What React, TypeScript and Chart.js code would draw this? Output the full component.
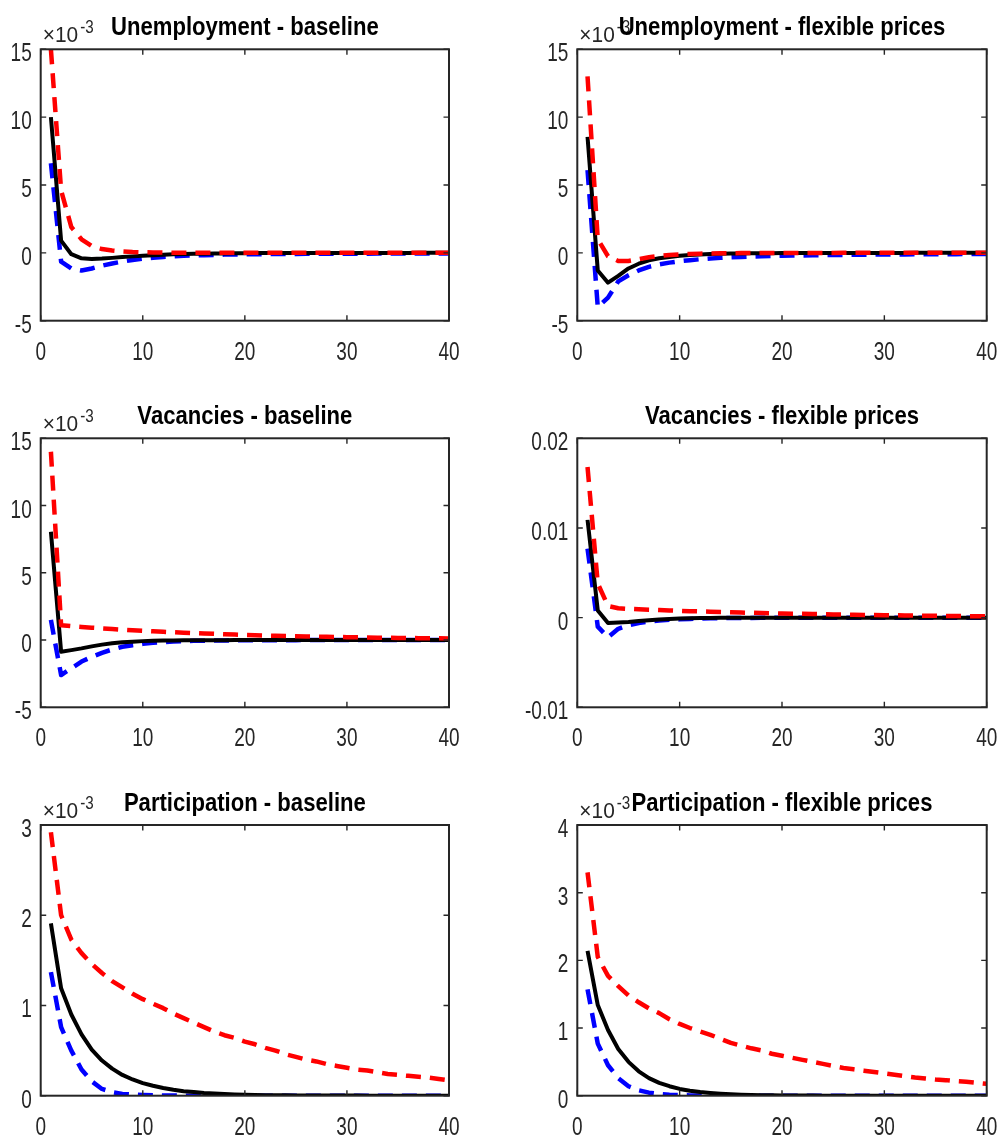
import React, { useEffect, useRef } from "react";
import { Chart, registerables } from "chart.js";

Chart.register(...registerables);

// Horizon (quarters after the shock)
const periods = [
  1, 2, 3, 4, 5, 6, 7, 8, 9, 10, 11, 12, 13, 14, 15, 16, 17, 18, 19, 20,
  21, 22, 23, 24, 25, 26, 27, 28, 29, 30, 31, 32, 33, 34, 35, 36, 37, 38, 39, 40,
];
const xTicks = [0, 10, 20, 30, 40];

// All responses are in units of 10^-3
const unempBaseRed = [15.0, 4.6, 1.9, 1.0, 0.5, 0.28, 0.17, 0.1, 0.06, 0.04, 0.03, 0.02, 0.015, 0.01, 0.008, 0.006, 0.005, 0.004, 0.003, 0.003, 0.002, 0.002, 0.002, 0.001, 0.001, 0.001, 0.001, 0.001, 0.001, 0.001, 0, 0, 0, 0, 0, 0, 0, 0, 0, 0];
const unempBaseBlack = [10.0, 0.9, -0.1, -0.4, -0.45, -0.42, -0.37, -0.31, -0.26, -0.21, -0.17, -0.14, -0.11, -0.09, -0.07, -0.06, -0.05, -0.04, -0.03, -0.025, -0.02, -0.017, -0.014, -0.012, -0.01, -0.008, -0.007, -0.006, -0.005, -0.004, -0.004, -0.003, -0.003, -0.002, -0.002, -0.002, -0.001, -0.001, -0.001, -0.001];
const unempBaseBlue = [6.6, -0.65, -1.15, -1.3, -1.15, -0.95, -0.78, -0.64, -0.52, -0.43, -0.36, -0.3, -0.26, -0.22, -0.19, -0.17, -0.15, -0.13, -0.12, -0.11, -0.1, -0.095, -0.09, -0.085, -0.08, -0.075, -0.07, -0.068, -0.065, -0.062, -0.06, -0.058, -0.056, -0.054, -0.052, -0.05, -0.048, -0.046, -0.044, -0.042];

const unempFlexRed = [13.0, 1.0, -0.25, -0.6, -0.6, -0.47, -0.33, -0.23, -0.16, -0.11, -0.08, -0.06, -0.045, -0.035, -0.027, -0.02, -0.015, -0.012, -0.009, -0.007, -0.005, -0.004, -0.003, -0.002, -0.002, -0.001, -0.001, -0.001, -0.001, 0, 0, 0, 0, 0, 0, 0, 0, 0, 0, 0];
const unempFlexBlack = [8.55, -1.3, -2.2, -1.7, -1.15, -0.8, -0.55, -0.4, -0.3, -0.22, -0.16, -0.12, -0.09, -0.07, -0.055, -0.045, -0.035, -0.028, -0.022, -0.018, -0.014, -0.011, -0.009, -0.007, -0.006, -0.005, -0.004, -0.003, -0.003, -0.002, -0.002, -0.002, -0.001, -0.001, -0.001, -0.001, -0.001, 0, 0, 0];
const unempFlexBlue = [6.1, -4.0, -3.3, -2.1, -1.65, -1.3, -1.03, -0.85, -0.72, -0.62, -0.54, -0.47, -0.42, -0.37, -0.33, -0.3, -0.27, -0.25, -0.23, -0.21, -0.2, -0.19, -0.18, -0.17, -0.16, -0.15, -0.14, -0.135, -0.13, -0.125, -0.12, -0.115, -0.11, -0.105, -0.1, -0.097, -0.094, -0.091, -0.088, -0.085];

const vacBaseRed = [14.0, 1.1, 1.03, 0.97, 0.92, 0.87, 0.82, 0.77, 0.73, 0.69, 0.65, 0.61, 0.58, 0.55, 0.52, 0.49, 0.46, 0.43, 0.41, 0.38, 0.36, 0.34, 0.32, 0.3, 0.29, 0.27, 0.26, 0.24, 0.23, 0.21, 0.2, 0.19, 0.18, 0.17, 0.16, 0.15, 0.14, 0.135, 0.13, 0.12];
const vacBaseBlack = [8.05, -0.87, -0.75, -0.62, -0.47, -0.34, -0.24, -0.17, -0.12, -0.08, -0.055, -0.04, -0.03, -0.02, -0.015, -0.01, -0.008, -0.006, -0.004, -0.003, -0.002, -0.002, -0.001, -0.001, -0.001, 0, 0, 0, 0, 0, 0, 0, 0, 0, 0, 0, 0, 0, 0, 0];
const vacBaseBlue = [1.5, -2.6, -2.1, -1.6, -1.25, -0.95, -0.7, -0.5, -0.38, -0.28, -0.2, -0.15, -0.11, -0.08, -0.06, -0.05, -0.04, -0.03, -0.025, -0.02, -0.015, -0.012, -0.01, -0.008, -0.006, -0.005, -0.004, -0.003, -0.002, -0.002, -0.001, -0.001, -0.001, 0, 0, 0, 0, 0, 0, 0];

const vacFlexRed = [16.8, 3.8, 1.3, 1.05, 0.98, 0.93, 0.88, 0.84, 0.8, 0.76, 0.72, 0.69, 0.66, 0.63, 0.6, 0.57, 0.54, 0.51, 0.49, 0.46, 0.44, 0.42, 0.4, 0.38, 0.36, 0.34, 0.32, 0.3, 0.29, 0.27, 0.26, 0.24, 0.23, 0.22, 0.21, 0.19, 0.18, 0.17, 0.16, 0.15];
const vacFlexBlack = [10.9, 0.8, -0.6, -0.55, -0.48, -0.38, -0.28, -0.2, -0.14, -0.1, -0.07, -0.05, -0.035, -0.025, -0.018, -0.013, -0.009, -0.006, -0.004, -0.003, -0.002, -0.001, -0.001, 0, 0, 0, 0, 0, 0, 0, 0, 0, 0, 0, 0, 0, 0, 0, 0, 0];
const vacFlexBlue = [7.7, -1.0, -2.2, -1.25, -0.85, -0.6, -0.45, -0.33, -0.25, -0.19, -0.14, -0.1, -0.08, -0.06, -0.045, -0.035, -0.027, -0.02, -0.015, -0.012, -0.009, -0.007, -0.005, -0.004, -0.003, -0.002, -0.002, -0.001, -0.001, -0.001, 0, 0, 0, 0, 0, 0, 0, 0, 0, 0];

const partBaseRed = [2.92, 2.0, 1.73, 1.58, 1.46, 1.36, 1.27, 1.2, 1.13, 1.07, 1.02, 0.97, 0.91, 0.86, 0.81, 0.76, 0.71, 0.67, 0.64, 0.6, 0.57, 0.53, 0.5, 0.46, 0.43, 0.4, 0.38, 0.35, 0.33, 0.31, 0.29, 0.28, 0.26, 0.24, 0.23, 0.22, 0.21, 0.2, 0.185, 0.17];
const partBaseBlack = [1.91, 1.19, 0.9, 0.68, 0.51, 0.39, 0.3, 0.23, 0.18, 0.14, 0.11, 0.085, 0.065, 0.05, 0.04, 0.03, 0.024, 0.018, 0.014, 0.011, 0.008, 0.006, 0.005, 0.004, 0.003, 0.002, 0.002, 0.001, 0.001, 0.001, 0.001, 0, 0, 0, 0, 0, 0, 0, 0, 0];
const partBaseBlue = [1.37, 0.76, 0.5, 0.29, 0.16, 0.075, 0.04, 0.02, 0.012, 0.007, 0.004, 0.002, 0.001, 0.001, 0, 0, 0, 0, 0, 0, 0, 0, 0, 0, 0, 0, 0, 0, 0, 0, 0, 0, 0, 0, 0, 0, 0, 0, 0, 0];

const partFlexRed = [3.3, 2.05, 1.77, 1.62, 1.48, 1.38, 1.29, 1.22, 1.13, 1.06, 1.0, 0.95, 0.9, 0.84, 0.78, 0.74, 0.7, 0.67, 0.62, 0.59, 0.56, 0.53, 0.5, 0.47, 0.44, 0.41, 0.39, 0.37, 0.35, 0.33, 0.31, 0.29, 0.27, 0.255, 0.24, 0.23, 0.215, 0.205, 0.19, 0.175];
const partFlexBlack = [2.14, 1.34, 0.97, 0.69, 0.5, 0.36, 0.26, 0.19, 0.14, 0.1, 0.074, 0.054, 0.04, 0.029, 0.021, 0.015, 0.011, 0.008, 0.006, 0.004, 0.003, 0.002, 0.002, 0.001, 0.001, 0.001, 0, 0, 0, 0, 0, 0, 0, 0, 0, 0, 0, 0, 0, 0];
const partFlexBlue = [1.57, 0.77, 0.45, 0.26, 0.14, 0.08, 0.045, 0.025, 0.014, 0.008, 0.004, 0.002, 0.001, 0.001, 0, 0, 0, 0, 0, 0, 0, 0, 0, 0, 0, 0, 0, 0, 0, 0, 0, 0, 0, 0, 0, 0, 0, 0, 0, 0];

// Y-axis ticks (same 10^-3 units) and their printed labels
const yTicksE3 = [-5, 0, 5, 10, 15];
const yLabelsE3 = ["-5", "0", "5", "10", "15"];
const yTicksVacFlex = [-10, 0, 10, 20];
const yLabelsVacFlex = ["-0.01", "0", "0.01", "0.02"];
const yTicksPartBase = [0, 1, 2, 3];
const yLabelsPartBase = ["0", "1", "2", "3"];
const yTicksPartFlex = [0, 1, 2, 3, 4];
const yLabelsPartFlex = ["0", "1", "2", "3", "4"];

const titles = [
  "Unemployment - baseline",
  "Unemployment - flexible prices",
  "Vacancies - baseline",
  "Vacancies - flexible prices",
  "Participation - baseline",
  "Participation - flexible prices",
];

type PanelSpec = {
  title: string;
  red: number[];
  black: number[];
  blue: number[];
  yTicks: number[];
  yLabels: string[];
  exponent: boolean;
  row: number;
  col: number;
};

const panels: PanelSpec[] = [
  { title: titles[0], red: unempBaseRed, black: unempBaseBlack, blue: unempBaseBlue, yTicks: yTicksE3, yLabels: yLabelsE3, exponent: true, row: 0, col: 0 },
  { title: titles[1], red: unempFlexRed, black: unempFlexBlack, blue: unempFlexBlue, yTicks: yTicksE3, yLabels: yLabelsE3, exponent: true, row: 0, col: 1 },
  { title: titles[2], red: vacBaseRed, black: vacBaseBlack, blue: vacBaseBlue, yTicks: yTicksE3, yLabels: yLabelsE3, exponent: true, row: 1, col: 0 },
  { title: titles[3], red: vacFlexRed, black: vacFlexBlack, blue: vacFlexBlue, yTicks: yTicksVacFlex, yLabels: yLabelsVacFlex, exponent: false, row: 1, col: 1 },
  { title: titles[4], red: partBaseRed, black: partBaseBlack, blue: partBaseBlue, yTicks: yTicksPartBase, yLabels: yLabelsPartBase, exponent: true, row: 2, col: 0 },
  { title: titles[5], red: partFlexRed, black: partFlexBlack, blue: partFlexBlue, yTicks: yTicksPartFlex, yLabels: yLabelsPartFlex, exponent: true, row: 2, col: 1 },
];

// Figure geometry (page pixels)
const CANVAS_W = 500;
const CANVAS_H = 380;
const COL_LEFT = [0, 500];
const ROW_TOP = [0, 380, 760];
const BOX_X = [
  [40.7, 449],
  [577.3, 986.7],
];
const BOX_Y = [
  [49.3, 320.7],
  [438.3, 707.3],
  [825, 1095.7],
];

const AXIS_COLOR = "#262626";
const FONT_FAMILY = '"Liberation Sans", Arial, Helvetica, sans-serif';
const TICK_LEN = 5.5;
const DASH = [15, 9];

function drawText(
  ctx: CanvasRenderingContext2D,
  text: string,
  x: number,
  y: number,
  font: string,
  sx: number,
  align: CanvasTextAlign,
  color: string
) {
  ctx.save();
  ctx.translate(x, y);
  ctx.scale(sx, 1);
  ctx.font = font;
  ctx.textAlign = align;
  ctx.textBaseline = "alphabetic";
  ctx.fillStyle = color;
  ctx.fillText(text, 0, 0);
  ctx.restore();
}

function framePlugin(p: PanelSpec) {
  return {
    id: "matlabFrame",
    afterDraw(chart: any) {
      const ctx: CanvasRenderingContext2D = chart.ctx;
      const { left, right, top, bottom } = chart.chartArea;
      const xs = chart.scales.x;
      const ys = chart.scales.y;
      ctx.save();

      // axes box
      ctx.strokeStyle = AXIS_COLOR;
      ctx.lineWidth = 2;
      ctx.strokeRect(left, top, right - left, bottom - top);

      // inward ticks on all four sides
      ctx.lineWidth = 1.4;
      ctx.beginPath();
      for (const v of xTicks) {
        const px = xs.getPixelForValue(v);
        ctx.moveTo(px, bottom);
        ctx.lineTo(px, bottom - TICK_LEN);
        ctx.moveTo(px, top);
        ctx.lineTo(px, top + TICK_LEN);
      }
      for (const v of p.yTicks) {
        const py = ys.getPixelForValue(v);
        ctx.moveTo(left, py);
        ctx.lineTo(left + TICK_LEN, py);
        ctx.moveTo(right, py);
        ctx.lineTo(right - TICK_LEN, py);
      }
      ctx.stroke();

      // tick labels
      const tickFont = `25px ${FONT_FAMILY}`;
      xTicks.forEach((v) => {
        drawText(ctx, String(v), xs.getPixelForValue(v), bottom + 39, tickFont, 0.76, "center", AXIS_COLOR);
      });
      p.yTicks.forEach((v, i) => {
        drawText(ctx, p.yLabels[i], left - 9, ys.getPixelForValue(v) + 12, tickFont, 0.76, "right", AXIS_COLOR);
      });

      // exponent multiplier
      if (p.exponent) {
        const baseFont = `22px ${FONT_FAMILY}`;
        ctx.font = baseFont;
        const w = ctx.measureText("\u00d710").width * 0.95;
        drawText(ctx, "\u00d710", left + 2, top - 7, baseFont, 0.95, "left", AXIS_COLOR);
        drawText(ctx, "-3", left + 2 + w + 2, top - 16, `19px ${FONT_FAMILY}`, 0.8, "left", AXIS_COLOR);
      }

      // title
      drawText(ctx, p.title, (left + right) / 2, top - 14.3, `bold 26px ${FONT_FAMILY}`, 0.85, "center", "#000000");

      ctx.restore();
    },
  };
}

function toPoints(values: number[]) {
  return periods.map((t, i) => ({ x: t, y: values[i] }));
}

function Panel({ spec }: { spec: PanelSpec }) {
  const ref = useRef<HTMLCanvasElement | null>(null);

  useEffect(() => {
    const canvas = ref.current;
    if (!canvas) return;
    const c = spec.col;
    const r = spec.row;
    const padding = {
      left: BOX_X[c][0] - COL_LEFT[c],
      right: COL_LEFT[c] + CANVAS_W - BOX_X[c][1],
      top: BOX_Y[r][0] - ROW_TOP[r],
      bottom: ROW_TOP[r] + CANVAS_H - BOX_Y[r][1],
    };
    const yMin = spec.yTicks[0];
    const yMax = spec.yTicks[spec.yTicks.length - 1];

    const chart = new Chart(canvas, {
      type: "line",
      data: {
        datasets: [
          {
            label: "red",
            data: toPoints(spec.red),
            borderColor: "#ff0000",
            borderWidth: 4.5,
            borderDash: DASH,
            borderCapStyle: "butt",
            borderJoinStyle: "round",
            pointRadius: 0,
            tension: 0,
            fill: false,
          },
          {
            label: "black",
            data: toPoints(spec.black),
            borderColor: "#000000",
            borderWidth: 4,
            borderCapStyle: "butt",
            borderJoinStyle: "round",
            pointRadius: 0,
            tension: 0,
            fill: false,
          },
          {
            label: "blue",
            data: toPoints(spec.blue),
            borderColor: "#0000ff",
            borderWidth: 4.5,
            borderDash: DASH,
            borderCapStyle: "butt",
            borderJoinStyle: "round",
            pointRadius: 0,
            tension: 0,
            fill: false,
          },
        ],
      },
      options: {
        animation: false,
        responsive: false,
        devicePixelRatio: 1,
        events: [],
        layout: { padding },
        plugins: {
          legend: { display: false },
          tooltip: { enabled: false },
          title: { display: false },
        },
        scales: {
          x: { type: "linear", min: 0, max: 40, display: false },
          y: { type: "linear", min: yMin, max: yMax, display: false },
        },
      },
      plugins: [framePlugin(spec)],
    } as any);

    return () => chart.destroy();
  }, [spec]);

  return (
    <canvas
      ref={ref}
      width={CANVAS_W}
      height={CANVAS_H}
      style={{
        position: "absolute",
        left: COL_LEFT[spec.col],
        top: ROW_TOP[spec.row],
        width: `${CANVAS_W}px`,
        height: `${CANVAS_H}px`,
      }}
    />
  );
}

export default function App() {
  return (
    <div
      style={{
        position: "absolute",
        left: 0,
        top: 0,
        width: 1000,
        height: 1140,
        background: "#ffffff",
        overflow: "hidden",
      }}
    >
      {panels.map((p) => (
        <Panel key={p.title} spec={p} />
      ))}
    </div>
  );
}
